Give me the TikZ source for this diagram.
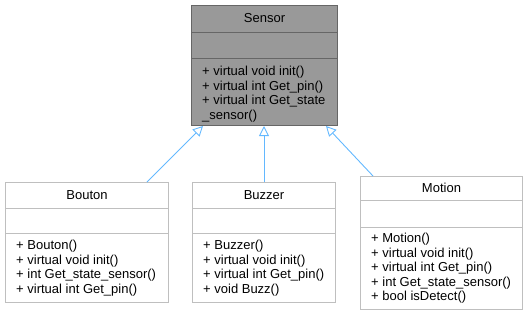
\documentclass[tikz,border=0pt]{standalone}
\usepackage{fontspec}
\setmainfont{Liberation Sans}
\usetikzlibrary{arrows.meta}
\definecolor{basefill}{HTML}{999999}
\definecolor{baseedge}{HTML}{666666}
\definecolor{plainedge}{HTML}{BFBFBF}
\definecolor{inheritblue}{HTML}{63B8FF}
\begin{document}
\begin{tikzpicture}[x=1pt,y=-1pt,
  font=\fontsize{13}{14.5}\selectfont,
  classbox/.style={draw=plainedge, fill=white, line width=1pt, anchor=north west, inner sep=0pt},
  baseclass/.style={classbox, draw=baseedge, fill=basefill},
  members/.style={anchor=north west, align=left, inner sep=0pt},
  inherit/.style={draw=inheritblue, line width=0.9pt, -{Triangle[open, length=10pt, width=10pt]}}]
\useasboundingbox (0,0) rectangle (528,316);

% base class
\node[baseclass, minimum width=146pt, minimum height=120pt] (sensor) at (191,5) {};
\draw[baseedge, line width=1pt] ([yshift=-27pt]sensor.north west) -- ([yshift=-27pt]sensor.north east);
\draw[baseedge, line width=1pt] ([yshift=-53pt]sensor.north west) -- ([yshift=-53pt]sensor.north east);
\node (sensorname) at ([yshift=-13.5pt]sensor.north) {Sensor};
\node[members] (sensorops) at ([xshift=11pt, yshift=-61pt]sensor.north west)
  {+ virtual void init()\\+ virtual int Get\_pin()\\+ virtual int Get\_state\\\_sensor()};

% Bouton
\node[classbox, minimum width=163pt, minimum height=120pt] (bouton) at (5,182) {};
\draw[plainedge, line width=1pt] ([yshift=-26pt]bouton.north west) -- ([yshift=-26pt]bouton.north east);
\draw[plainedge, line width=1pt] ([yshift=-51pt]bouton.north west) -- ([yshift=-51pt]bouton.north east);
\node (boutonname) at ([yshift=-13pt]bouton.north) {Bouton};
\node[members] (boutonops) at ([xshift=11pt, yshift=-58pt]bouton.north west)
  {+ Bouton()\\+ virtual void init()\\+ int Get\_state\_sensor()\\+ virtual int Get\_pin()};

% Buzzer
\node[classbox, minimum width=143pt, minimum height=120pt] (buzzer) at (192,182) {};
\draw[plainedge, line width=1pt] ([yshift=-26pt]buzzer.north west) -- ([yshift=-26pt]buzzer.north east);
\draw[plainedge, line width=1pt] ([yshift=-51pt]buzzer.north west) -- ([yshift=-51pt]buzzer.north east);
\node (buzzername) at ([yshift=-13pt]buzzer.north) {Buzzer};
\node[members] (buzzerops) at ([xshift=11pt, yshift=-58pt]buzzer.north west)
  {+ Buzzer()\\+ virtual void init()\\+ virtual int Get\_pin()\\+ void Buzz()};

% Motion
\node[classbox, minimum width=162pt, minimum height=133pt] (motion) at (360,176) {};
\draw[plainedge, line width=1pt] ([yshift=-24pt]motion.north west) -- ([yshift=-24pt]motion.north east);
\draw[plainedge, line width=1pt] ([yshift=-51pt]motion.north west) -- ([yshift=-51pt]motion.north east);
\node (motionname) at ([yshift=-12pt]motion.north) {Motion};
\node[members] (motionops) at ([xshift=11pt, yshift=-57pt]motion.north west)
  {+ Motion()\\+ virtual void init()\\+ virtual int Get\_pin()\\+ int Get\_state\_sensor()\\+ bool isDetect()};

% inheritance
\draw[inherit] ([xshift=142pt]bouton.north west) -- ([xshift=12pt]sensor.south west);
\draw[inherit] (buzzer.north) -- (buzzer.north |- sensor.south);
\draw[inherit] ([xshift=13pt]motion.north west) -- ([xshift=-12pt]sensor.south east);
\end{tikzpicture}
\end{document}
